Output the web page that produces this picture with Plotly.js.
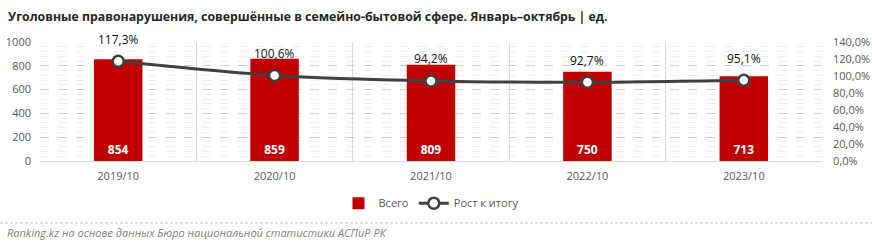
<!DOCTYPE html>
<html>
<head>
<meta charset="utf-8">
<script src="https://cdn.plot.ly/plotly-3.0.1.min.js"></script>
<style>
html,body{margin:0;padding:0;background:#fff;}
#chart{width:872px;height:247px;}
</style>
</head>
<body>
<div id="chart"></div>
<script>
const categories = ["2019/10", "2020/10", "2021/10", "2022/10", "2023/10"];
const totalValues = [854, 859, 809, 750, 713];
const growthValues = [117.3, 100.6, 94.2, 92.7, 95.1];
const seriesNames = ["Всего", "Рост к итогу"];
const titleText = "Уголовные правонарушения, совершённые в семейно-бытовой сфере. Январь–октябрь | ед.";
const sourceText = "Ranking.kz на основе данных Бюро национальной статистики АСПиР РК";

const W = 872, H = 247;
const M = {l: 40, r: 50, t: 41.5, b: 85.5};
const PW = W - M.l - M.r, PH = H - M.t - M.b;
const px = x => (x - M.l) / PW;
const py = y => (H - M.b - y) / PH;

const font = "Open Sans, Noto Sans, sans-serif";

const bars = {
  type: "bar",
  name: seriesNames[0],
  x: categories,
  y: totalValues,
  marker: {color: "#c00000"},
  text: totalValues.map(String),
  texttemplate: "<b>%{text}</b>",
  textposition: "inside",
  insidetextanchor: "start",
  textangle: 0,
  textfont: {color: "#ffffff", size: 12, family: font},
  hoverinfo: "skip"
};

const line = {
  type: "scatter",
  mode: "lines+markers",
  name: seriesNames[1],
  x: categories,
  y: growthValues,
  yaxis: "y2",
  line: {color: "#404040", width: 3, shape: "spline", smoothing: 0.8},
  marker: {color: "#ffffff", size: 11, line: {color: "#404040", width: 2.5}},
  hoverinfo: "skip"
};

const pctAnnotations = categories.map((c, i) => ({
  x: c, y: growthValues[i], xref: "x", yref: "y2",
  text: growthValues[i].toFixed(1).replace(".", ",") + "%",
  showarrow: false, yshift: 22,
  font: {size: 12, color: "#111111", family: font}
}));

const layout = {
  width: W, height: H,
  margin: M,
  paper_bgcolor: "#ffffff",
  plot_bgcolor: "#ffffff",
  showlegend: true,
  separators: ", ",
  bargap: 0.69,
  title: {
    text: "<b>" + titleText + "</b>",
    font: {size: 12.3, color: "#262626", family: font},
    xref: "container", yref: "container",
    x: 8 / W, xanchor: "left",
    y: 1 - 17 / H, yanchor: "middle"
  },
  xaxis: {
    type: "category",
    tickson: "boundaries",
    showgrid: true, gridcolor: "#d9d9d9", gridwidth: 1,
    showline: true, linecolor: "#d9d9d9", linewidth: 1,
    ticks: "", ticklen: 0, ticklabelstandoff: 5,
    tickfont: {size: 11, color: "#595959", family: font},
    range: [-0.5, 4.5],
    fixedrange: true
  },
  yaxis: {
    range: [0, 1000], dtick: 200,
    showgrid: true, gridcolor: "#cfcfcf", griddash: "dash", gridwidth: 1,
    minor: {dtick: 40, showgrid: true, gridcolor: "#f0f0f0", gridwidth: 1},
    zeroline: false, showline: false,
    ticks: "", ticklabelstandoff: 8,
    tickfont: {size: 11, color: "#595959", family: font},
    fixedrange: true
  },
  yaxis2: {
    overlaying: "y", side: "right",
    range: [0, 140], dtick: 20,
    tickformat: ".1f", ticksuffix: "%",
    showgrid: false, zeroline: false, showline: false,
    ticks: "", ticklabelstandoff: 10,
    tickfont: {size: 11, color: "#595959", family: font},
    fixedrange: true
  },
  legend: {
    orientation: "h",
    x: 0.5, xanchor: "center",
    y: py(204), yanchor: "middle",
    font: {size: 11, color: "#595959", family: font},
    traceorder: "normal",
    itemwidth: 30
  },
  shapes: [{
    type: "line", xref: "paper", yref: "paper",
    x0: px(0), x1: px(W), y0: py(224), y1: py(224),
    line: {color: "#bfbfbf", width: 1, dash: "3px,2px"}
  }],
  annotations: pctAnnotations.concat([{
    xref: "paper", yref: "paper",
    x: px(5), y: py(234), xanchor: "left", yanchor: "middle",
    text: "<i>" + sourceText + "</i>",
    showarrow: false,
    font: {size: 11, color: "#7f7f7f", family: font}
  }])
};

Plotly.newPlot("chart", [bars, line], layout, {displayModeBar: false, staticPlot: true});
</script>
</body>
</html>
